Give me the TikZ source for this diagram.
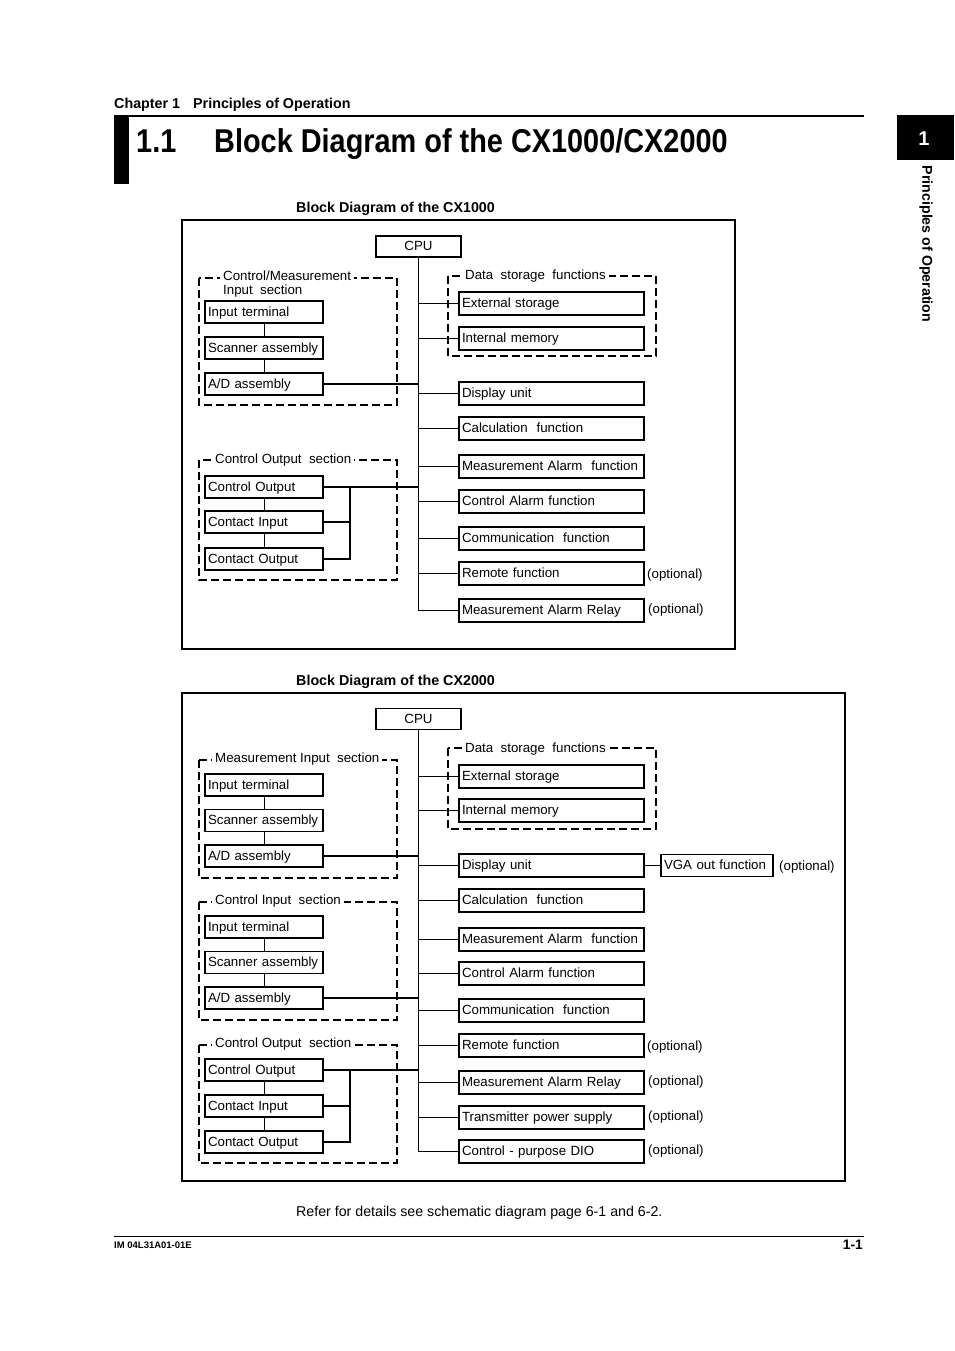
\documentclass[tikz,border=0pt]{standalone}
\usepackage{fontspec}
\setmainfont{Liberation Sans}
\newfontfamily\condfont[FakeStretch=0.875]{Liberation Sans}
\usetikzlibrary{positioning}

\newcommand{\dgfont}{\fontsize{13.3}{14}\selectfont}

\begin{document}
\begin{tikzpicture}[x=1pt, y=-1pt,
    lbox/.style={draw, line width=1.6pt, minimum height=22pt, inner xsep=3pt, inner ysep=0pt, text width=112pt, text height=10.5pt, text depth=1.7pt, align=left, font=\dgfont},
    rbox/.style={lbox, text width=179pt, minimum height=23pt},
    cpubox/.style={draw, line width=1.3pt, minimum width=85pt, minimum height=21pt, inner sep=0pt, text height=10.5pt, text depth=1.7pt, font=\dgfont},
    grp/.style={line width=1.4pt, dash pattern=on 8pt off 4pt},
    grplabel/.style={fill=white, anchor=west, inner xsep=3pt, inner ysep=1pt, align=left, font=\dgfont},
    opt/.style={anchor=west, inner sep=0pt, font=\dgfont},
    frame/.style={line width=1.6pt},
    bus/.style={line width=1.4pt}]

\useasboundingbox (0,0) rectangle (954,1351);

% page header
\node [anchor=base west, inner sep=0pt, font=\bfseries\fontsize{14.3}{14}\selectfont] (chap) at (114,109) {Chapter 1};
\node [anchor=base west, inner sep=0pt, font=\bfseries\fontsize{14.3}{14}\selectfont] (chapname) at (193,109) {Principles of Operation};
\draw [line width=2.5pt] (114,116) -- (864,116);
\fill (114,115) rectangle (129,184);
\node [anchor=base west, inner sep=0pt, font=\condfont\bfseries\fontsize{33}{33}\selectfont] (secno) at (136,153) {1.1};
\node [anchor=base west, inner sep=0pt, font=\condfont\bfseries\fontsize{33}{33}\selectfont] (sectitle) at (214,153) {Block Diagram of the CX1000/CX2000};
\fill (897,115) rectangle (954,160);
\node [white, font=\bfseries\fontsize{20}{20}\selectfont] (tabno) at (924,139) {1};
\node [rotate=-90, font=\bfseries\fontsize{14.2}{14}\selectfont] (tabname) at (926,244) {Principles of Operation};

% ---------------- CX1000 ----------------
\node [anchor=base west, inner sep=0pt, font=\bfseries\fontsize{14.3}{14}\selectfont] (title1) at (296,212) {Block Diagram of the CX1000};
\draw [frame] (182,220) rectangle (735,649);
\node [cpubox] (cpu1) at (418.5,246.5) {CPU};

% dashed groups
\draw [grp] (448,276) rectangle (656,356);
\node [grplabel] (data1) at (462,276) {Data~ storage~ functions};
\draw [grp] (199,278) rectangle (397,405);
\node [grplabel] (inp1) at (220,284) {Control/Measurement\\Input~ section};
\draw [grp] (199,460) rectangle (397,580);
\node [grplabel] (out1) at (212,460) {Control Output~ section};

% input section
\node [lbox] (it1) at (264,312) {Input terminal};
\node [lbox] (sc1) at (264,348) {Scanner assembly};
\node [lbox] (ad1) at (264,384) {A/D assembly};
\draw (it1) -- (sc1);
\draw (sc1) -- (ad1);

% output section
\node [lbox] (cou1) at (264,487) {Control Output};
\node [lbox] (ci1) at (264,522) {Contact Input};
\node [lbox] (cot1) at (264,559) {Contact Output};
\coordinate (j1) at (350,487);
\draw (cou1) -- (ci1);
\draw (ci1) -- (cot1);
\draw [bus] (ci1.east) -- (ci1.east -| j1);
\draw [bus] (cot1.east) -| (j1);

% functions
\node [rbox] (ext1) at (551.5,303.5) {External storage};
\node [rbox] (int1) at (551.5,338.5) {Internal memory};
\node [rbox] (disp1) at (551.5,393.5) {Display unit};
\node [rbox] (calc1) at (551.5,428.5) {Calculation~ function};
\node [rbox] (maf1) at (551.5,466.5) {Measurement Alarm~ function};
\node [rbox] (caf1) at (551.5,501.5) {Control Alarm function};
\node [rbox] (com1) at (551.5,538.5) {Communication~ function};
\node [rbox] (rem1) at (551.5,573.5) {Remote function};
\node [rbox] (mar1) at (551.5,610.5) {Measurement Alarm Relay};
\node [opt] (opt1a) at (647,575) {(optional)};
\node [opt] (opt1b) at (648,610) {(optional)};

% bus
\draw [bus] (cpu1.south) -- (cpu1.south |- mar1.west);
\draw [bus] (ext1.west) -- (ext1.west -| cpu1.south);
\draw [bus] (int1.west) -- (int1.west -| cpu1.south);
\draw [bus] (disp1.west) -- (disp1.west -| cpu1.south);
\draw [bus] (calc1.west) -- (calc1.west -| cpu1.south);
\draw [bus] (maf1.west) -- (maf1.west -| cpu1.south);
\draw [bus] (caf1.west) -- (caf1.west -| cpu1.south);
\draw [bus] (com1.west) -- (com1.west -| cpu1.south);
\draw [bus] (rem1.west) -- (rem1.west -| cpu1.south);
\draw [bus] (mar1.west) -- (mar1.west -| cpu1.south);
\draw [bus] (ad1.east) -- (ad1.east -| cpu1.south);
\draw [bus] (cou1.east) -- (cou1.east -| cpu1.south);

% ---------------- CX2000 ----------------
\node [anchor=base west, inner sep=0pt, font=\bfseries\fontsize{14.3}{14}\selectfont] (title2) at (296,685) {Block Diagram of the CX2000};
\draw [frame] (182,693) rectangle (845,1181);
\node [cpubox] (cpu2) at (418.5,719) {CPU};

% dashed groups
\draw [grp] (448,748) rectangle (656,829);
\node [grplabel] (data2) at (462,749) {Data~ storage~ functions};
\draw [grp] (199,760) rectangle (397,878);
\node [grplabel] (inp2) at (212,759) {Measurement Input~ section};
\draw [grp] (199,902) rectangle (397,1020);
\node [grplabel] (cin2) at (212,901) {Control Input~ section};
\draw [grp] (199,1045) rectangle (397,1163);
\node [grplabel] (out2) at (212,1044) {Control Output~ section};

% measurement input section
\node [lbox] (it2) at (264,785) {Input terminal};
\node [lbox] (sc2) at (264,820.5) {Scanner assembly};
\node [lbox] (ad2) at (264,856) {A/D assembly};
\draw (it2) -- (sc2);
\draw (sc2) -- (ad2);

% control input section
\node [lbox] (it3) at (264,927) {Input terminal};
\node [lbox] (sc3) at (264,962.5) {Scanner assembly};
\node [lbox] (ad3) at (264,998) {A/D assembly};
\draw (it3) -- (sc3);
\draw (sc3) -- (ad3);

% output section
\node [lbox] (cou2) at (264,1070) {Control Output};
\node [lbox] (ci2) at (264,1106) {Contact Input};
\node [lbox] (cot2) at (264,1142) {Contact Output};
\coordinate (j2) at (350,1070);
\draw (cou2) -- (ci2);
\draw (ci2) -- (cot2);
\draw [bus] (ci2.east) -- (ci2.east -| j2);
\draw [bus] (cot2.east) -| (j2);

% functions
\node [rbox] (ext2) at (551.5,776.5) {External storage};
\node [rbox] (int2) at (551.5,810.5) {Internal memory};
\node [rbox] (disp2) at (551.5,865.5) {Display unit};
\node [lbox, text width=106pt] (vga2) at (717,865.5) {VGA out function};
\node [rbox] (calc2) at (551.5,900.5) {Calculation~ function};
\node [rbox] (maf2) at (551.5,939.5) {Measurement Alarm~ function};
\node [rbox] (caf2) at (551.5,973.5) {Control Alarm function};
\node [rbox] (com2) at (551.5,1010.5) {Communication~ function};
\node [rbox] (rem2) at (551.5,1045.5) {Remote function};
\node [rbox] (mar2) at (551.5,1082.5) {Measurement Alarm Relay};
\node [rbox] (tps2) at (551.5,1117.5) {Transmitter power supply};
\node [rbox] (dio2) at (551.5,1151.5) {Control - purpose DIO};
\node [opt] (opt2a) at (779,867) {(optional)};
\node [opt] (opt2b) at (647,1047) {(optional)};
\node [opt] (opt2c) at (648,1082) {(optional)};
\node [opt] (opt2d) at (648,1117) {(optional)};
\node [opt] (opt2e) at (648,1151) {(optional)};
\draw [bus] (disp2.east) -- (vga2.west);

% bus
\draw [bus] (cpu2.south) -- (cpu2.south |- dio2.west);
\draw [bus] (ext2.west) -- (ext2.west -| cpu2.south);
\draw [bus] (int2.west) -- (int2.west -| cpu2.south);
\draw [bus] (disp2.west) -- (disp2.west -| cpu2.south);
\draw [bus] (calc2.west) -- (calc2.west -| cpu2.south);
\draw [bus] (maf2.west) -- (maf2.west -| cpu2.south);
\draw [bus] (caf2.west) -- (caf2.west -| cpu2.south);
\draw [bus] (com2.west) -- (com2.west -| cpu2.south);
\draw [bus] (rem2.west) -- (rem2.west -| cpu2.south);
\draw [bus] (mar2.west) -- (mar2.west -| cpu2.south);
\draw [bus] (tps2.west) -- (tps2.west -| cpu2.south);
\draw [bus] (dio2.west) -- (dio2.west -| cpu2.south);
\draw [bus] (ad2.east) -- (ad2.east -| cpu2.south);
\draw [bus] (ad3.east) -- (ad3.east -| cpu2.south);
\draw [bus] (cou2.east) -- (cou2.east -| cpu2.south);

% page footer
\node [anchor=base west, inner sep=0pt, font=\fontsize{14.2}{14}\selectfont] (note) at (296,1216) {Refer for details see schematic diagram page 6-1 and 6-2.};
\draw [line width=1pt] (114,1236) -- (864,1236);
\node [anchor=base west, inner sep=0pt, font=\bfseries\fontsize{9.5}{9.5}\selectfont] (docno) at (114,1248) {IM 04L31A01-01E};
\node [anchor=base east, inner sep=0pt, font=\bfseries\fontsize{13.8}{13.8}\selectfont] (pageno) at (863,1249) {1-1};
\end{tikzpicture}
\end{document}
